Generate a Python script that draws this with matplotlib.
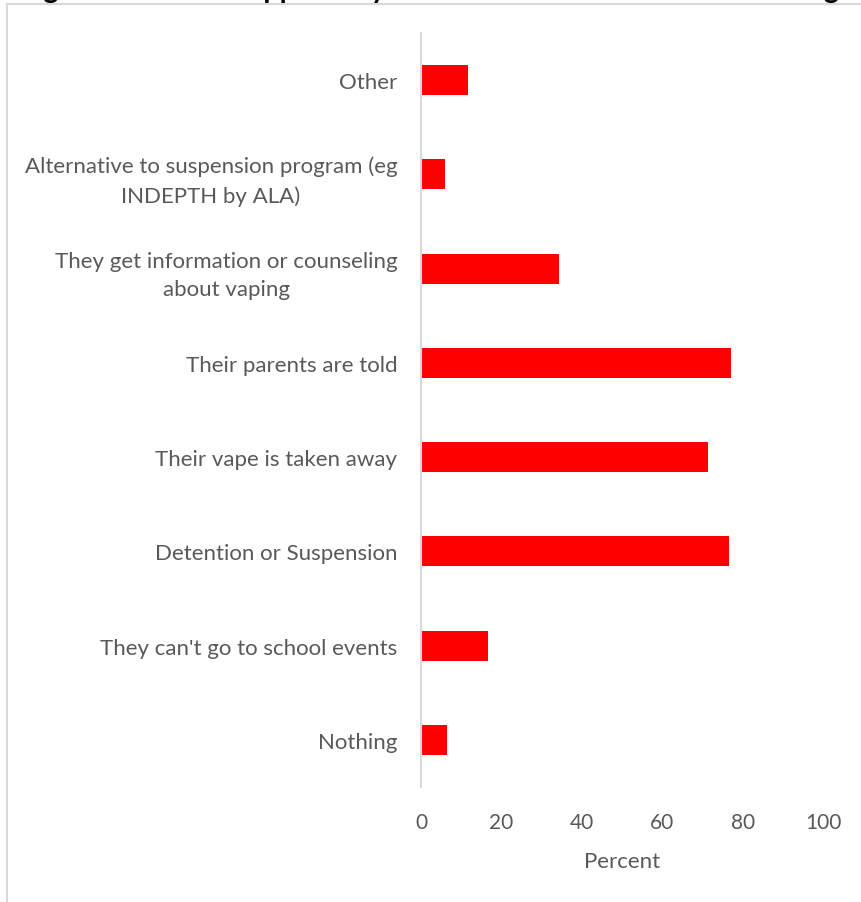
import matplotlib
matplotlib.use("Agg")
import matplotlib.pyplot as plt
from matplotlib.lines import Line2D

categories = [
    "Other",
    "Alternative to suspension program (eg\nINDEPTH by ALA)",
    "They get information or counseling\nabout vaping",
    "Their parents are told",
    "Their vape is taken away",
    "Detention or Suspension",
    "They can't go to school events",
    "Nothing",
]
values = [11.7, 6.0, 34.3, 77.1, 71.4, 76.6, 16.7, 6.5]
xticks = [0, 20, 40, 60, 80, 100]
title = "Figure 10: What happens if you are found at school with an e-cig"

plt.rcParams['font.family'] = ['Lato', 'DejaVu Sans']
grey = '#595959'

fig = plt.figure(figsize=(8.61, 9.03), dpi=100)
ax = fig.add_axes([421/861, 115/903, 402/861, 754/903])

n = len(categories)
ypos = list(range(n))
ax.barh(ypos, values, height=0.32, color='#ff0000')
ax.set_ylim(n - 0.5, -0.5)
ax.set_xlim(0, 100)
ax.set_yticks(ypos)
ax.set_yticklabels(categories, multialignment='center', fontsize=16, color=grey,
                   linespacing=1.55)
ax.set_xticks(xticks)
ax.set_xticklabels([str(v) for v in xticks], fontsize=15, color=grey)
ax.tick_params(axis='y', length=0, pad=17)
ax.tick_params(axis='x', length=0, pad=18)
ax.set_xlabel("Percent", fontsize=16, color=grey, labelpad=14)
for s in ['top', 'right', 'bottom']:
    ax.spines[s].set_visible(False)
ax.spines['left'].set_color('#d9d9d9')
ax.spines['left'].set_linewidth(1.5)

# chart frame (cropped)
fig.add_artist(Line2D([7/861, 1.0], [1 - 5/903, 1 - 5/903], color='#d9d9d9', lw=1.5))
fig.add_artist(Line2D([7/861, 7/861], [0, 1 - 5/903], color='#d9d9d9', lw=1.5))

# title cropped at the top of the image
fig.text(20/861, 1 + 2/903, title, fontsize=20.5, fontweight='bold', color='black',
         ha='left', va='baseline')

fig.savefig("out.png", dpi=100)
